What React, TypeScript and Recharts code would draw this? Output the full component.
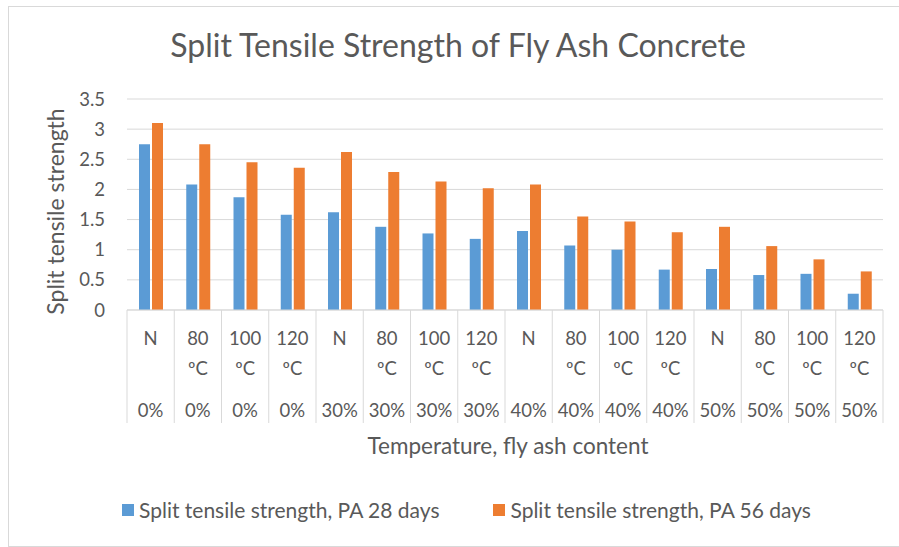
import React from "react";
import {
  BarChart,
  Bar,
  XAxis,
  YAxis,
  CartesianGrid,
  Legend,
} from "recharts";

const temps = [
  "N", "80 ºC", "100 ºC", "120 ºC",
  "N", "80 ºC", "100 ºC", "120 ºC",
  "N", "80 ºC", "100 ºC", "120 ºC",
  "N", "80 ºC", "100 ºC", "120 ºC",
];
const ashContent = [
  "0%", "0%", "0%", "0%",
  "30%", "30%", "30%", "30%",
  "40%", "40%", "40%", "40%",
  "50%", "50%", "50%", "50%",
];
const pa28 = [2.75, 2.08, 1.87, 1.58, 1.62, 1.38, 1.27, 1.18, 1.31, 1.07, 1.0, 0.67, 0.68, 0.58, 0.6, 0.27];
const pa56 = [3.1, 2.75, 2.45, 2.36, 2.62, 2.29, 2.13, 2.02, 2.08, 1.55, 1.47, 1.29, 1.38, 1.06, 0.84, 0.64];
const yTicks = [0, 0.5, 1, 1.5, 2, 2.5, 3, 3.5];

const series = [
  { key: "pa28", name: "Split tensile strength, PA 28 days", color: "#5B9BD5" },
  { key: "pa56", name: "Split tensile strength, PA 56 days", color: "#ED7D31" },
];

const data = temps.map((t, i) => ({
  cat: t + " " + ashContent[i],
  pa28: pa28[i],
  pa56: pa56[i],
}));

const FONT = "Lato, 'Noto Sans', sans-serif";
const TEXT = "#595959";
const GRID = "#D9D9D9";

const CategoryTick = (props: any) => {
  const { x, y, index, payload } = props;
  const half = payload && payload.offset ? payload.offset : 23.6;
  const lines = temps[index].split(" ");
  return (
    <g>
      <line x1={x - half} y1={y} x2={x - half} y2={y + 113} stroke={GRID} />
      {index === temps.length - 1 && (
        <line x1={x + half} y1={y} x2={x + half} y2={y + 113} stroke={GRID} />
      )}
      {lines.map((l: string, i: number) => (
        <text key={i} x={x} y={y + 35 + i * 30} textAnchor="middle" fill={TEXT} fontSize={18.5} fontFamily={FONT}>
          {l}
        </text>
      ))}
      <text x={x} y={y + 107} textAnchor="middle" fill={TEXT} fontSize={18.5} fontFamily={FONT}>
        {ashContent[index]}
      </text>
    </g>
  );
};

const LegendBox = () => (
  <div style={{ display: "flex", alignItems: "center", fontFamily: FONT, fontSize: 21, color: TEXT, whiteSpace: "nowrap" }}>
    {series.map((s, i) => (
      <div key={s.key} style={{ display: "flex", alignItems: "center", marginRight: i === 0 ? 54 : 0 }}>
        <span style={{ width: 12, height: 12, background: s.color, display: "inline-block", marginRight: 5 }} />
        <span>{s.name}</span>
      </div>
    ))}
  </div>
);

export default function App() {
  return (
    <div
      style={{
        position: "fixed",
        left: 8,
        top: 6,
        width: 890,
        height: 539,
        border: "1px solid " + GRID,
        background: "#fff",
      }}
    >
      <div
        style={{
          position: "absolute",
          left: 0,
          width: 898,
          top: 22,
          textAlign: "center",
          fontFamily: FONT,
          fontSize: 32,
          lineHeight: 1,
          color: TEXT,
          whiteSpace: "nowrap",
        }}
      >
        Split Tensile Strength of Fly Ash Concrete
      </div>
      <BarChart
        width={890}
        height={539}
        data={data}
        margin={{ top: 92, right: 16, left: 0, bottom: 86 }}
        barSize={11}
        barGap={2}
      >
        <CartesianGrid vertical={false} stroke={GRID} />
        <XAxis
          dataKey="cat"
          interval={0}
          height={150}
          tickLine={false}
          tickSize={0}
          tickMargin={0}
          axisLine={{ stroke: GRID }}
          tick={<CategoryTick />}
          label={{
            content: (p: any) => {
              const vb = p.viewBox || {};
              return (
                <text
                  x={vb.x + vb.width / 2 + 3}
                  y={vb.y + 144}
                  textAnchor="middle"
                  fill={TEXT}
                  fontSize={22.5}
                  fontFamily={FONT}
                >
                  Temperature, fly ash content
                </text>
              );
            },
          }}
        />
        <YAxis
          width={118}
          domain={[0, 3.5]}
          ticks={yTicks}
          tickLine={false}
          axisLine={false}
          tickSize={0}
          tickMargin={22}
          tick={{ fill: TEXT, fontSize: 18.5, fontFamily: FONT }}
          label={{
            content: (p: any) => {
              const vb = p.viewBox || {};
              const cx = vb.x + 46;
              const cy = vb.y + vb.height / 2 + 7;
              return (
                <text
                  x={cx}
                  y={cy}
                  transform={`rotate(-90, ${cx}, ${cy})`}
                  textAnchor="middle"
                  dominantBaseline="central"
                  fill={TEXT}
                  fontSize={23}
                  fontFamily={FONT}
                >
                  Split tensile strength
                </text>
              );
            },
          }}
        />
        <Legend
          layout="horizontal"
          verticalAlign="middle"
          align="center"
          content={<LegendBox />}
          wrapperStyle={{ top: 490, left: 113, width: "auto", height: 24 }}
        />
        {series.map((s) => (
          <Bar key={s.key} dataKey={s.key} name={s.name} fill={s.color} isAnimationActive={false} />
        ))}
      </BarChart>
    </div>
  );
}
